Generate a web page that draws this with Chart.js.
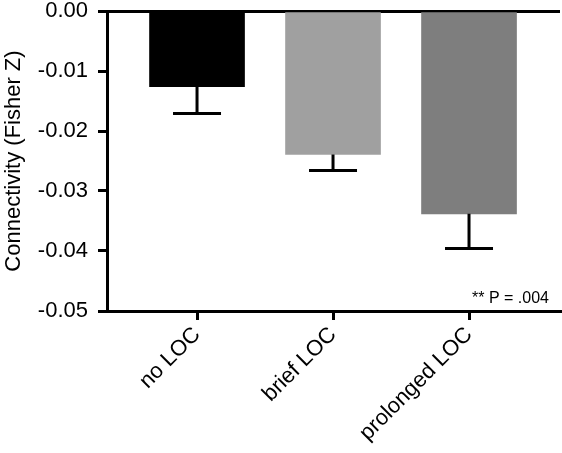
<!DOCTYPE html>
<html>
<head>
<meta charset="utf-8">
<script src="https://cdn.jsdelivr.net/npm/chart.js@4"></script>
<style>
  body { margin: 0; background: #fff; }
  canvas { display: block; }
</style>
</head>
<body>
<canvas id="chart" width="562" height="453"></canvas>
<script>
// groups, in order along the x axis
const categories = ['no LOC', 'brief LOC', 'prolonged LOC'];
const positions = [0, 1, 2];
// mean connectivity and the (one-sided) error
const meanValues = [-0.0126, -0.0239, -0.0338];
const errorValues = [0.0045, 0.0027, 0.0058];
const barColors = ['#000000', '#a0a0a0', '#7e7e7e'];
const yTicks = [0, -0.01, -0.02, -0.03, -0.04, -0.05];
const pText = '** P = .004';

const fontFamily = '"Liberation Sans", Arial, Helvetica, sans-serif';

// draws the error whiskers below each bar and the p value note
const errorBars = {
    id: 'errorBars',
    afterDatasetsDraw(chart) {
        const c = chart.ctx;
        const yScale = chart.scales.y;
        const meta = chart.getDatasetMeta(0);
        c.save();
        c.strokeStyle = '#000';
        c.lineWidth = 3;
        meta.data.forEach((bar, i) => {
            const yTop = yScale.getPixelForValue(meanValues[i]);
            const yEnd = yScale.getPixelForValue(meanValues[i] - errorValues[i]);
            c.beginPath();
            c.moveTo(bar.x, yTop);
            c.lineTo(bar.x, yEnd);
            c.moveTo(bar.x - 24, yEnd);
            c.lineTo(bar.x + 24, yEnd);
            c.stroke();
        });
        c.fillStyle = '#000';
        c.font = '16px ' + fontFamily;
        c.textAlign = 'right';
        c.textBaseline = 'alphabetic';
        c.fillText(pText, chart.chartArea.right - 11, chart.chartArea.bottom - 8);
        c.restore();
    }
};

const ctx = document.getElementById('chart');
const chart = new Chart(ctx, {
    type: 'bar',
    data: {
        datasets: [{
            data: positions.map((p, i) => ({x: p, y: meanValues[i]})),
            backgroundColor: barColors,
            borderWidth: 0,
            barThickness: 95
        }]
    },
    options: {
        responsive: false,
        animation: false,
        layout: {
            padding: {left: 0, top: 11, right: 2, bottom: 0}
        },
        plugins: {
            legend: {display: false},
            tooltip: {enabled: false}
        },
        scales: {
            x: {
                type: 'linear',
                offset: false,
                min: -0.662,
                max: 2.669,
                afterBuildTicks: scale => {
                    scale.ticks = positions.map(v => ({value: v}));
                },
                afterFit: scale => {
                    scale.height = 142;
                    scale.paddingLeft = 0;
                    scale.paddingRight = 0;
                },
                grid: {
                    offset: false,
                    drawOnChartArea: false,
                    drawTicks: true,
                    tickLength: 9,
                    tickWidth: 3,
                    tickColor: '#000',
                    lineWidth: 3
                },
                border: {display: true, color: '#000', width: 3},
                ticks: {
                    color: '#000',
                    font: {family: fontFamily, size: 22},
                    minRotation: 45,
                    maxRotation: 45,
                    padding: 2,
                    autoSkip: false,
                    callback: v => categories[v]
                }
            },
            y: {
                min: -0.05,
                max: 0,
                afterBuildTicks: scale => {
                    scale.ticks = yTicks.map(v => ({value: v}));
                },
                afterFit: scale => {
                    scale.width = 107;
                    scale.paddingTop = 0;
                    scale.paddingBottom = 0;
                },
                grid: {
                    drawOnChartArea: true,
                    drawTicks: true,
                    tickLength: 9,
                    lineWidth: 3,
                    color: c => (c.tick && c.tick.value === 0) ? '#000' : 'rgba(0,0,0,0)',
                    tickColor: '#000'
                },
                border: {display: true, color: '#000', width: 3},
                ticks: {
                    color: '#000',
                    font: {family: fontFamily, size: 22},
                    padding: 10,
                    callback: v => v.toFixed(2)
                },
                title: {
                    display: true,
                    text: 'Connectivity (Fisher Z)',
                    color: '#000',
                    font: {family: fontFamily, size: 22},
                    padding: {top: 1, bottom: 0}
                }
            }
        }
    },
    plugins: [errorBars]
});
</script>
</body>
</html>
